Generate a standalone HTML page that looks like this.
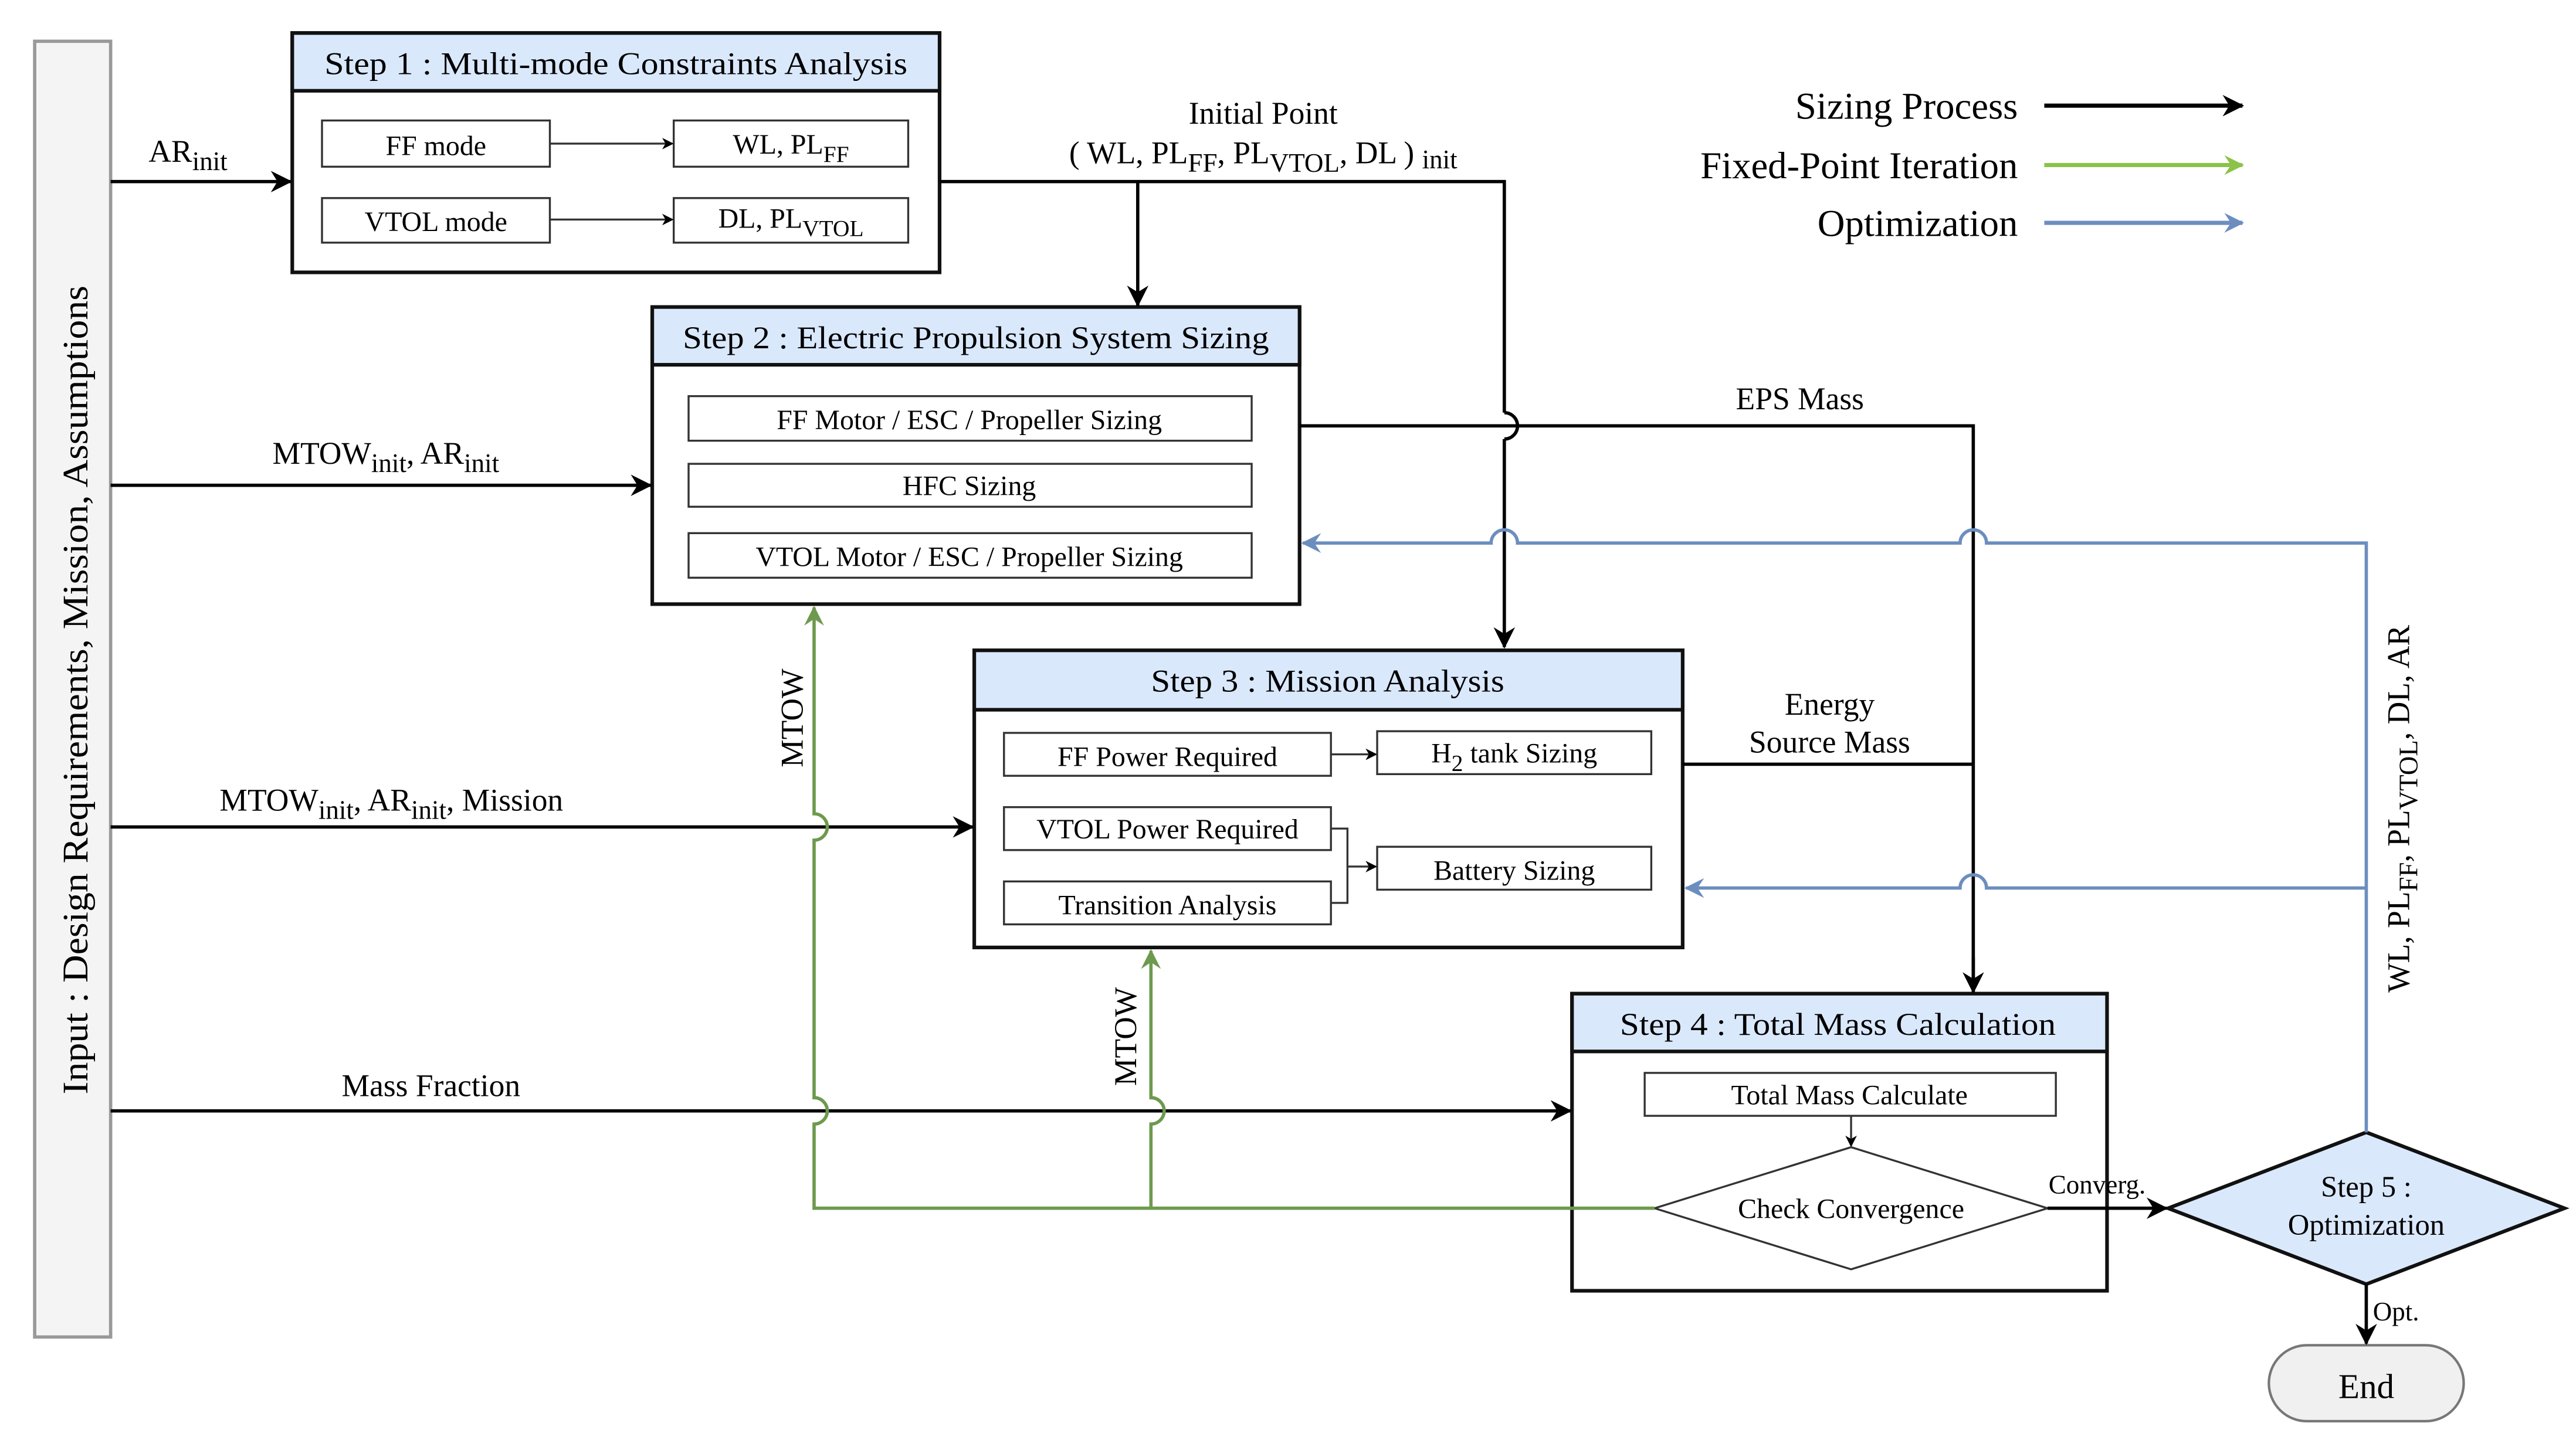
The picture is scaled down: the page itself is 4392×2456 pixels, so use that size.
<!DOCTYPE html>
<html><head><meta charset="utf-8"><style>html,body{margin:0;padding:0;background:#fff}svg{display:block}</style></head>
<body>
<svg width="4392" height="2456" viewBox="0 0 1560 872.4" preserveAspectRatio="none" xmlns="http://www.w3.org/2000/svg" font-family="Liberation Serif, serif">
<defs>
<marker id="ab" markerWidth="13" markerHeight="13" refX="12" refY="6.5" orient="auto" markerUnits="userSpaceOnUse"><path d="M0,0 L13,6.5 L0,13 L4,6.5 z" fill="#000"/></marker>
<marker id="abs" markerWidth="7" markerHeight="7" refX="6" refY="3.5" orient="auto" markerUnits="userSpaceOnUse"><path d="M0,0 L7,3.5 L0,7 L2,3.5 z" fill="#000"/></marker>
<marker id="ag" markerWidth="12" markerHeight="12" refX="11" refY="6" orient="auto" markerUnits="userSpaceOnUse"><path d="M0,0 L12,6 L0,12 L4,6 z" fill="#6d9a4e"/></marker>
<marker id="agl" markerWidth="12" markerHeight="12" refX="11" refY="6" orient="auto" markerUnits="userSpaceOnUse"><path d="M0,0 L12,6 L0,12 L4,6 z" fill="#8bc34a"/></marker>
<marker id="au" markerWidth="12" markerHeight="12" refX="11" refY="6" orient="auto" markerUnits="userSpaceOnUse"><path d="M0,0 L12,6 L0,12 L4,6 z" fill="#6c8ebf"/></marker>
</defs>

<rect x="21" y="25" width="46" height="785" fill="#f4f4f4" stroke="#999" stroke-width="2"/>
<text transform="translate(53,418) rotate(-90)" font-size="22" text-anchor="middle" textLength="490" lengthAdjust="spacingAndGlyphs">Input : Design Requirements, Mission, Assumptions</text>

<rect x="177" y="20" width="392" height="145" fill="#fff" stroke="#111" stroke-width="2.2"/>
<rect x="177" y="20" width="392" height="35" fill="#dae8fc" stroke="#111" stroke-width="2.2"/>
<text x="373" y="45" font-size="19" text-anchor="middle" textLength="353" lengthAdjust="spacingAndGlyphs">Step 1 : Multi-mode Constraints Analysis</text>
<g fill="#fff" stroke="#333" stroke-width="1.2">
<rect x="195" y="73" width="138" height="28"/><rect x="408" y="73" width="142" height="28"/>
<rect x="195" y="120" width="138" height="27"/><rect x="408" y="120" width="142" height="27"/>
</g>
<g font-size="17" text-anchor="middle">
<text x="264" y="94">FF mode</text>
<text x="479" y="93">WL, PL<tspan font-size="14" dy="5">FF</tspan></text>
<text x="264" y="140">VTOL mode</text>
<text x="479" y="138">DL, PL<tspan font-size="14" dy="5">VTOL</tspan></text>
</g>
<g stroke="#333" stroke-width="1.2" fill="none">
<line x1="333" y1="87" x2="407" y2="87" marker-end="url(#abs)"/>
<line x1="333" y1="133" x2="407" y2="133" marker-end="url(#abs)"/>
</g>

<rect x="395" y="186" width="392" height="180" fill="#fff" stroke="#111" stroke-width="2.2"/>
<rect x="395" y="186" width="392" height="35" fill="#dae8fc" stroke="#111" stroke-width="2.2"/>
<text x="591" y="211" font-size="19" text-anchor="middle" textLength="355" lengthAdjust="spacingAndGlyphs">Step 2 : Electric Propulsion System Sizing</text>
<g fill="#fff" stroke="#333" stroke-width="1.2">
<rect x="417" y="240" width="341" height="27"/><rect x="417" y="281" width="341" height="26"/><rect x="417" y="323" width="341" height="27"/>
</g>
<g font-size="17" text-anchor="middle">
<text x="587" y="260">FF Motor / ESC / Propeller Sizing</text>
<text x="587" y="300">HFC Sizing</text>
<text x="587" y="343">VTOL Motor / ESC / Propeller Sizing</text>
</g>

<rect x="590" y="394" width="429" height="180" fill="#fff" stroke="#111" stroke-width="2.2"/>
<rect x="590" y="394" width="429" height="36" fill="#dae8fc" stroke="#111" stroke-width="2.2"/>
<text x="804" y="419" font-size="19" text-anchor="middle" textLength="214" lengthAdjust="spacingAndGlyphs">Step 3 : Mission Analysis</text>
<g fill="#fff" stroke="#333" stroke-width="1.2">
<rect x="608" y="444" width="198" height="26"/><rect x="834" y="443" width="166" height="26"/>
<rect x="608" y="489" width="198" height="26"/><rect x="608" y="534" width="198" height="26"/>
<rect x="834" y="513" width="166" height="26"/>
</g>
<g font-size="17" text-anchor="middle">
<text x="707" y="464">FF Power Required</text>
<text x="917" y="462">H<tspan font-size="14" dy="5">2</tspan><tspan dy="-5"> tank Sizing</tspan></text>
<text x="707" y="508">VTOL Power Required</text>
<text x="707" y="554">Transition Analysis</text>
<text x="917" y="533">Battery Sizing</text>
</g>
<g stroke="#333" stroke-width="1.2" fill="none">
<line x1="806" y1="457" x2="833" y2="457" marker-end="url(#abs)"/>
<polyline points="806,502 816,502 816,547 806,547"/>
<line x1="816" y1="525" x2="833" y2="525" marker-end="url(#abs)"/>
</g>

<rect x="952" y="602" width="324" height="180" fill="#fff" stroke="#111" stroke-width="2.2"/>
<rect x="952" y="602" width="324" height="35" fill="#dae8fc" stroke="#111" stroke-width="2.2"/>
<text x="1113" y="627" font-size="19" text-anchor="middle" textLength="264" lengthAdjust="spacingAndGlyphs">Step 4 : Total Mass Calculation</text>
<rect x="996" y="650" width="249" height="26" fill="#fff" stroke="#333" stroke-width="1.2"/>
<text x="1120" y="669" font-size="17" text-anchor="middle">Total Mass Calculate</text>
<line x1="1121" y1="676" x2="1121" y2="694" stroke="#333" stroke-width="1.2" marker-end="url(#abs)"/>
<polygon points="1002,732 1121,695 1240,732 1121,769" fill="#fff" stroke="#333" stroke-width="1.2"/>
<text x="1121" y="738" font-size="17" text-anchor="middle">Check Convergence</text>

<polygon points="1313,732 1433,686 1553,732 1433,778" fill="#dae8fc" stroke="#111" stroke-width="2.2"/>
<text x="1433" y="725" font-size="18" text-anchor="middle">Step 5 :</text>
<text x="1433" y="748" font-size="18" text-anchor="middle">Optimization</text>

<rect x="1374" y="815" width="118" height="46" rx="23" fill="#f0f0f0" stroke="#777" stroke-width="1.5"/>
<text x="1433" y="847" font-size="21" text-anchor="middle">End</text>

<g stroke="#000" stroke-width="2" fill="none">
<line x1="67" y1="110" x2="176" y2="110" marker-end="url(#ab)"/>
<polyline points="569,110 911,110 911,250"/>
<path d="M911,250 A8,8 0 0 1 911,266"/>
<line x1="911" y1="266" x2="911" y2="392" marker-end="url(#ab)"/>
<line x1="689" y1="110" x2="689" y2="185" marker-end="url(#ab)"/>
<line x1="67" y1="294" x2="394" y2="294" marker-end="url(#ab)"/>
<polyline points="787,258 1195,258 1195,600"/>
<line x1="1195" y1="580" x2="1195" y2="601" marker-end="url(#ab)"/>
<line x1="1019" y1="463" x2="1195" y2="463"/>
<line x1="67" y1="501" x2="589" y2="501" marker-end="url(#ab)"/>
<line x1="67" y1="673" x2="951" y2="673" marker-end="url(#ab)"/>
<line x1="1240" y1="732" x2="1312" y2="732" marker-end="url(#ab)"/>
<line x1="1433" y1="778" x2="1433" y2="814" marker-end="url(#ab)"/>
</g>

<g stroke="#6c8ebf" stroke-width="2" fill="none">
<path d="M1433,686 L1433,329 L1203,329 A8,8 0 0 0 1187,329 L919,329 A8,8 0 0 0 903,329 L789,329" marker-end="url(#au)"/>
<path d="M1433,538 L1203,538 A8,8 0 0 0 1187,538 L1021,538" marker-end="url(#au)"/>
</g>

<g stroke="#6d9a4e" stroke-width="2" fill="none">
<path d="M1002,732 L493,732 L493,681 A8,8 0 0 0 493,665 L493,509 A8,8 0 0 0 493,493 L493,368" marker-end="url(#ag)"/>
<path d="M697,732 L697,681 A8,8 0 0 0 697,665 L697,576" marker-end="url(#ag)"/>
</g>

<g font-size="19">
<text x="90" y="98">AR<tspan font-size="16" dy="5">init</tspan></text>
<text x="765" y="75" text-anchor="middle">Initial Point</text>
<text x="765" y="99" text-anchor="middle">( WL, PL<tspan font-size="16" dy="5">FF</tspan><tspan dy="-5">, PL</tspan><tspan font-size="16" dy="5">VTOL</tspan><tspan dy="-5">, DL ) </tspan><tspan font-size="16" dy="3">init</tspan></text>
<text x="165" y="281">MTOW<tspan font-size="16" dy="5">init</tspan><tspan dy="-5">, AR</tspan><tspan font-size="16" dy="5">init</tspan></text>
<text x="133" y="491">MTOW<tspan font-size="16" dy="5">init</tspan><tspan dy="-5">, AR</tspan><tspan font-size="16" dy="5">init</tspan><tspan dy="-5">, Mission</tspan></text>
<text x="261" y="664" text-anchor="middle">Mass Fraction</text>
<text x="1090" y="248" text-anchor="middle">EPS Mass</text>
<text x="1108" y="433" text-anchor="middle">Energy</text>
<text x="1108" y="456" text-anchor="middle">Source Mass</text>
<text transform="translate(486,435) rotate(-90)" text-anchor="middle">MTOW</text>
<text transform="translate(688,628) rotate(-90)" text-anchor="middle">MTOW</text>
<text transform="translate(1459,490) rotate(-90)" text-anchor="middle">WL, PL<tspan font-size="16" dy="5">FF</tspan><tspan dy="-5">, PL</tspan><tspan font-size="16" dy="5">VTOL</tspan><tspan dy="-5">, DL, AR</tspan></text>
</g>
<text x="1270" y="723" font-size="16" text-anchor="middle">Converg.</text>
<text x="1437" y="800" font-size="16">Opt.</text>

<g font-size="23" text-anchor="end">
<text x="1222" y="72">Sizing Process</text>
<text x="1222" y="108">Fixed-Point Iteration</text>
<text x="1222" y="143">Optimization</text>
</g>
<line x1="1238" y1="64" x2="1358" y2="64" stroke="#000" stroke-width="2.5" marker-end="url(#ab)"/>
<line x1="1238" y1="100" x2="1358" y2="100" stroke="#8bc34a" stroke-width="2.5" marker-end="url(#agl)"/>
<line x1="1238" y1="135" x2="1358" y2="135" stroke="#6c8ebf" stroke-width="2.5" marker-end="url(#au)"/>
</svg>
</body></html>
